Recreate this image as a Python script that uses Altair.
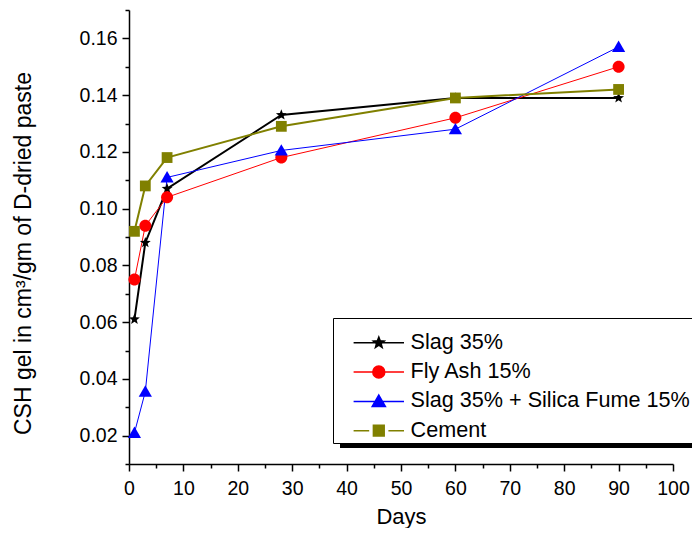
import math
import altair as alt
import pandas as pd

# ---------------- data ----------------
days = [1, 3, 7, 28, 60, 90]
series_names = ["Slag 35%", "Fly Ash 15%", "Slag 35% + Silica Fume 15%", "Cement"]
slag_35 = [0.061, 0.088, 0.107, 0.133, 0.139, 0.139]
fly_ash_15 = [0.075, 0.094, 0.104, 0.118, 0.132, 0.150]
slag_sf = [0.021, 0.0355, 0.111, 0.1205, 0.128, 0.157]
cement = [0.092, 0.108, 0.118, 0.129, 0.139, 0.142]
x_ticks = list(range(0, 101, 5))
y_ticks = [round(0.01 * i, 2) for i in range(1, 18)]

# ---------------- styles ----------------
colors = ["#000000", "#ff0000", "#0000ff", "#808000"]
line_widths = [2, 1, 1, 2]
FONT = "Liberation Sans"


def star_path(r_out=0.95, r_in=0.4):
    pts = []
    for k in range(10):
        r = r_out if k % 2 == 0 else r_in
        a = -math.pi / 2 + k * math.pi / 5
        pts.append(f"{r * math.cos(a):.3f},{r * math.sin(a):.3f}")
    return "M" + "L".join(pts) + "Z"


STAR = star_path()
CIRCLE = "M1,0A1,1,0,1,1,-1,0A1,1,0,1,1,1,0Z"
TRI = "M0,-1.05L1.1,0.85L-1.1,0.85Z"
SQUARE = "M-0.9,-0.9H0.9V0.9H-0.9Z"
marker_paths = [STAR, CIRCLE, TRI, SQUARE]
LINE = "M-4.2,0H4.2"
legend_paths = [LINE + STAR, LINE + CIRCLE, LINE + TRI,
                "M-4.2,0H-1.6M1.6,0H4.2" + SQUARE]

rows = []
for name, vals in zip(series_names, [slag_35, fly_ash_15, slag_sf, cement]):
    for d, v in zip(days, vals):
        rows.append({"day": d, "value": v, "series": name})
df = pd.DataFrame(rows)

x_scale = alt.Scale(domain=[0, 100], nice=False, zero=False)
y_scale = alt.Scale(domain=[0.01, 0.17], nice=False, zero=False)
color_scale = alt.Scale(domain=series_names, range=colors)

x_axis = alt.Axis(
    values=x_ticks,
    tickSize={"condition": {"test": "datum.value % 10 === 0", "value": 7}, "value": 4},
    labelExpr="datum.value % 10 === 0 ? datum.label : ''",
    labelOverlap=False, labelFlush=False, grid=False,
    domainColor="black", domainWidth=1.5, tickColor="black", tickWidth=1.5,
    labelFont=FONT, labelFontSize=19.5, labelColor="black", labelPadding=8,
    title="Days", titleFont=FONT, titleFontSize=22, titleFontWeight="normal",
    titleColor="black", titleBaseline="alphabetic", titleY=59,
)
y_axis = alt.Axis(
    values=y_ticks, format=".2f",
    tickSize={"condition": {"test": "round(datum.value * 100) % 2 === 0", "value": 7}, "value": 4},
    labelExpr="round(datum.value * 100) % 2 === 0 ? datum.label : ''",
    labelOverlap=False, labelFlush=False, grid=False,
    domainColor="black", domainWidth=1.5, tickColor="black", tickWidth=1.5,
    labelFont=FONT, labelFontSize=19.5, labelColor="black", labelPadding=5,
    title="CSH gel in cm\u00b3/gm of D-dried paste", titleFont=FONT, titleFontSize=23,
    titleFontWeight="normal", titleColor="black", titleBaseline="middle",
    titleX=-106, titleY=243, titleAngle=270,
)

X = alt.X("day:Q", scale=x_scale, axis=x_axis)
Y = alt.Y("value:Q", scale=y_scale, axis=y_axis)

base = alt.Chart(df)

shadow = alt.Chart(pd.DataFrame({"k": [0]})).mark_rect(color="black").encode(
    x=alt.value(211), x2=alt.value(700), y=alt.value(431), y2=alt.value(438)
)

line_layers = []
point_layers = []
for name, col, lw, path in zip(series_names, colors, line_widths, marker_paths):
    sub = base.transform_filter(alt.datum.series == name)
    line_layers.append(sub.mark_line(color=col, strokeWidth=lw).encode(x=X, y=Y))
    point_layers.append(
        sub.mark_point(shape=path, filled=True, size=144, color=col, opacity=1).encode(x=X, y=Y)
    )

leg = alt.Legend(
    orient="none", legendX=204, legendY=308,
    title="M" * 45, titleFontSize=11, titlePadding=2, titleLimit=3000, titleOpacity=0,
    padding=1, fillColor="white", strokeColor="black",
    symbolSize=144, symbolStrokeWidth=1.5, symbolOpacity=1,
    symbolOffset=34, labelOffset=21,
    labelFont=FONT, labelFontSize=21.6, labelColor="black", labelLimit=1000,
    rowPadding=6.3,
)

legend_layer = base.mark_point(filled=True, size=144, opacity=0).encode(
    x=X, y=Y,
    shape=alt.Shape("series:N", scale=alt.Scale(domain=series_names, range=legend_paths), legend=leg),
    fill=alt.Fill("series:N", scale=color_scale, legend=leg),
    stroke=alt.Stroke("series:N", scale=color_scale, legend=leg),
)

chart = (
    alt.layer(shadow, *line_layers, *point_layers, legend_layer)
    .properties(
        width=544, height=454,
        autosize=alt.AutoSizeParams(type="none"),
        padding={"left": 121, "top": 2, "right": 19, "bottom": 64},
        background="white",
    )
    .configure_view(stroke=None)
)

chart.save("out.html", embed_options={"renderer": "svg", "actions": False})
